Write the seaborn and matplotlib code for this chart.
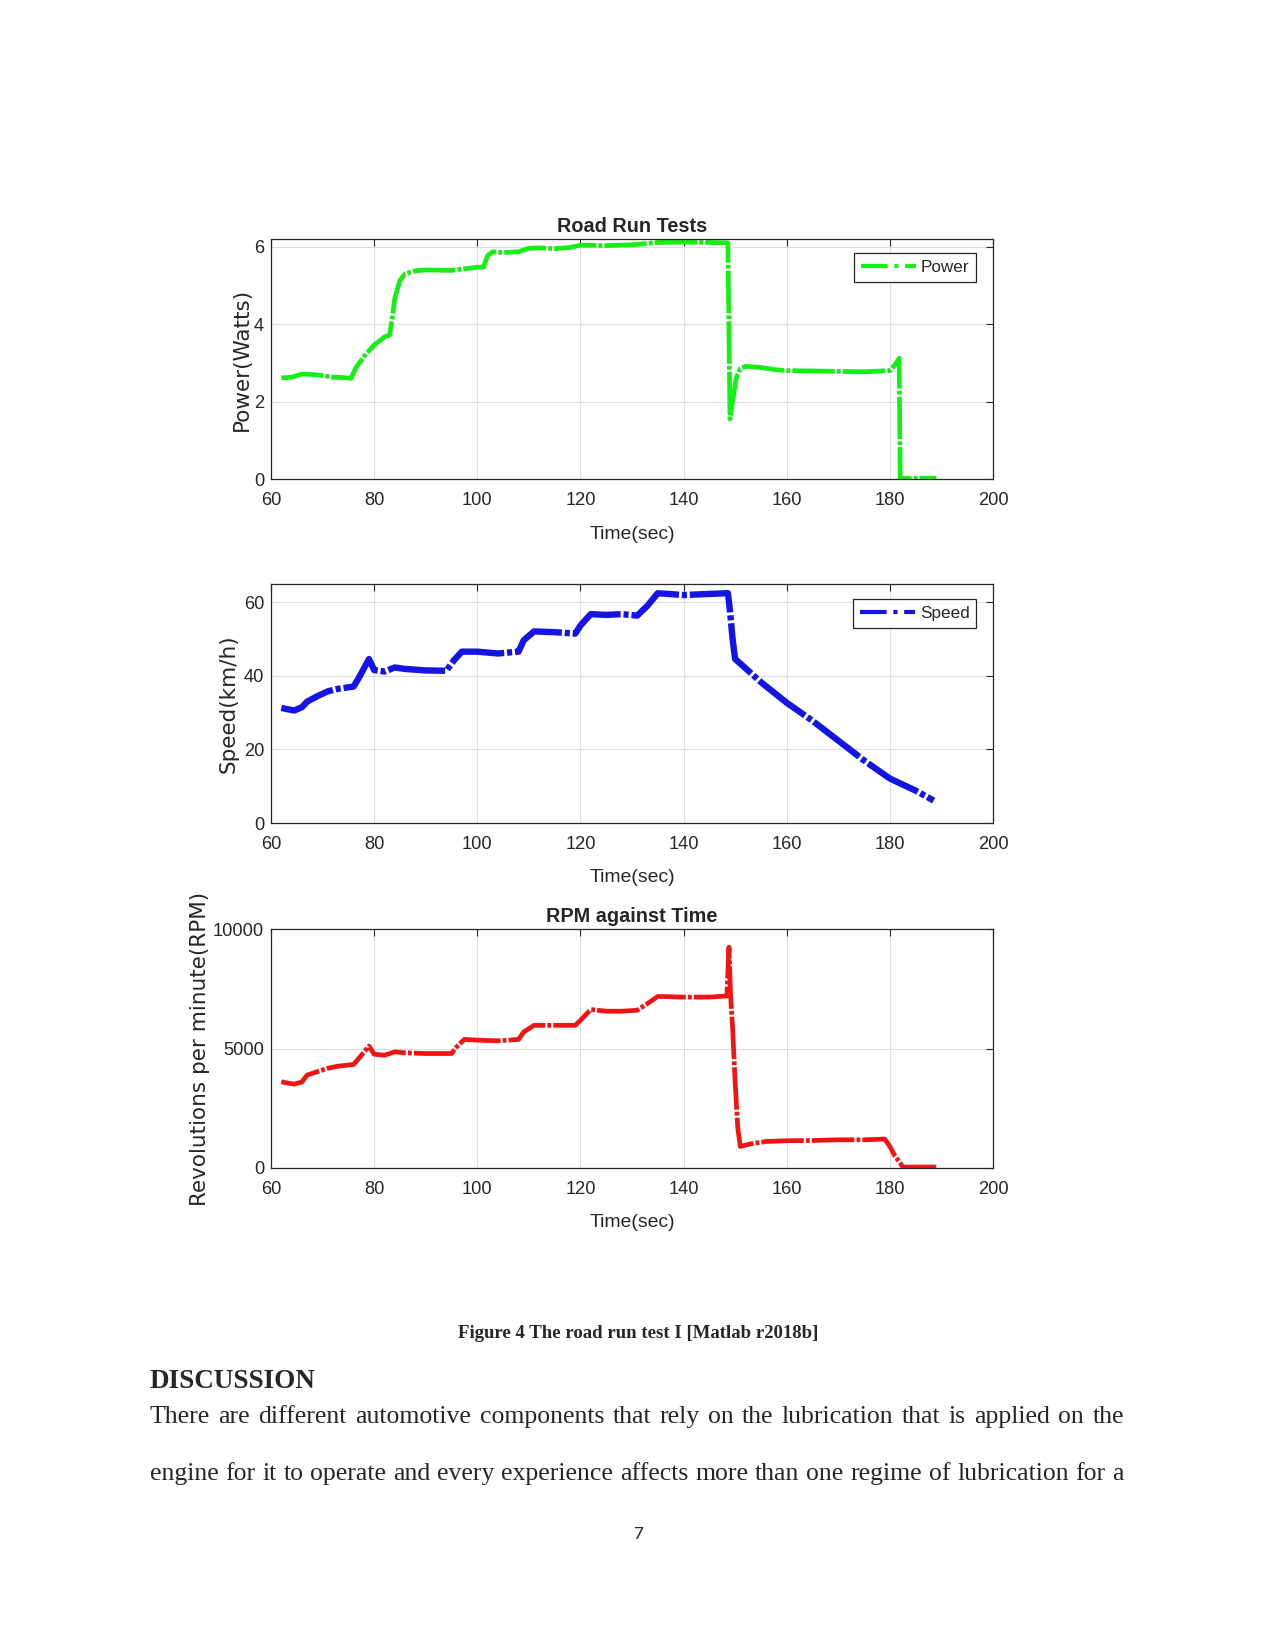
import matplotlib
matplotlib.use("Agg")
import matplotlib.pyplot as plt
from matplotlib.lines import Line2D
from matplotlib import font_manager
import seaborn as sns

# ---- data ----
power_time = [62, 64, 66, 68, 70, 72, 74, 75.5, 76.5, 78,
              80, 82, 83, 83.5, 84, 85, 86, 88, 90, 95,
              100, 101.2, 102, 103, 105, 108, 110, 112, 115, 118,
              120, 125, 130, 135, 140, 145, 148.6, 149.0, 149.5, 150.2,
              151, 152, 155, 158, 160, 165, 170, 175, 180, 181,
              181.8, 182.0, 185, 189]
power_watts = [2.61, 2.63, 2.71, 2.70, 2.67, 2.63, 2.62, 2.60, 2.88, 3.16,
               3.46, 3.67, 3.72, 4.15, 4.66, 5.13, 5.30, 5.38, 5.40, 5.39,
               5.47, 5.47, 5.77, 5.87, 5.85, 5.87, 5.96, 5.97, 5.95, 5.98,
               6.04, 6.03, 6.05, 6.11, 6.12, 6.11, 6.10, 1.55, 2.0, 2.6,
               2.85, 2.91, 2.88, 2.82, 2.80, 2.79, 2.78, 2.77, 2.80, 2.95,
               3.12, 0.02, 0.02, 0.02]

speed_time = [62, 63, 64.5, 66, 67, 69, 71, 73, 76, 77,
              79, 80, 82, 84, 86, 90, 94, 95.5, 97, 100,
              104, 108, 109, 111, 115, 119, 120, 122, 125, 128,
              131, 133, 135, 140, 145, 148.6, 149, 149.5, 150, 152,
              155, 160, 165, 170, 175, 180, 185, 188.5]
speed_kmh = [31.3, 31.0, 30.6, 31.5, 33.0, 34.5, 35.8, 36.5, 37.1, 39.4,
             44.6, 41.6, 41.2, 42.3, 41.9, 41.5, 41.4, 44.3, 46.6, 46.6,
             46.1, 46.6, 49.7, 52.1, 51.9, 51.5, 53.7, 56.8, 56.6, 56.8,
             56.4, 59.1, 62.5, 62.0, 62.3, 62.5, 57.7, 50.1, 44.6, 42.1,
             38.3, 32.7, 27.8, 22.4, 17.0, 12.1, 8.8, 6.1]

rpm_time = [62, 63, 64.5, 66, 67, 69, 71, 73, 76, 77,
            79, 80, 82, 84, 86, 90, 95, 96, 97.5, 100,
            104, 108, 109, 111, 115, 119, 120, 122, 125, 128,
            131, 133, 135, 140, 145, 148.4, 148.8, 149.1, 149.5, 150,
            150.5, 151, 153, 156, 160, 165, 170, 175, 179, 180,
            181, 182, 182.5, 185, 189]
rpm_values = [3610, 3560, 3510, 3600, 3890, 4030, 4170, 4260, 4330, 4580,
              5100, 4760, 4720, 4860, 4820, 4790, 4790, 5070, 5380, 5350,
              5320, 5380, 5690, 5970, 5970, 5970, 6180, 6630, 6560, 6560,
              6600, 6880, 7180, 7150, 7150, 7200, 9240, 7290, 5900, 3600,
              1700, 900, 1010, 1110, 1140, 1150, 1180, 1180, 1210, 900,
              490, 210, 40, 40, 40]

x_ticks = [60, 80, 100, 120, 140, 160, 180, 200]

caption = "Figure 4 The road run test I [Matlab r2018b]"
heading = "DISCUSSION"
body_lines = [
    "There are different automotive components that rely on the lubrication that is applied on the",
    "engine for it to operate and every experience affects more than one regime of lubrication for a",
]

# ---- style ----
sns.set_style("white")
installed = {f.name for f in font_manager.fontManager.ttflist}
narrow = "Liberation Sans Narrow" in installed
print("narrow font:", narrow)
# condensed sans when available, else the regular one at a smaller size
sans = ["Liberation Sans Narrow", "Liberation Sans", "DejaVu Sans"] if narrow else ["Liberation Sans", "DejaVu Sans"]
k = 1.0 if narrow else 0.82
plt.rcParams['font.family'] = sans

W, H = 1275, 1650
fig = plt.figure(figsize=(W / 100, H / 100), dpi=100)
fig.patch.set_facecolor("white")


def px_axes(left, top, right, bottom):
    return fig.add_axes([left / W, 1 - bottom / H, (right - left) / W, (bottom - top) / H])


def style_axes(ax, ylim, yticks, ylabel, ylabel_x, title=None):
    ax.set_xlim(60, 200)
    ax.set_ylim(*ylim)
    ax.set_xticks(x_ticks)
    ax.set_yticks(yticks)
    ax.grid(True, color="#dedede", linewidth=0.8)
    ax.tick_params(direction="in", length=5, width=0.8, top=True, right=True,
                   labelsize=16 * k, colors="#262626")
    ax.tick_params(axis="x", pad=9.5)
    ax.tick_params(axis="y", pad=5)
    for s in ax.spines.values():
        s.set_color("#262626")
        s.set_linewidth(0.9)
    ax.set_xlabel("Time(sec)", fontsize=17 * k)
    ax.xaxis.set_label_coords(0.5, -0.23)
    ax.xaxis.label.set_va("center")
    ax.set_ylabel(ylabel, fontsize=15.5, family="DejaVu Sans")
    ax.yaxis.set_label_coords(ylabel_x, 0.5)
    ax.yaxis.label.set_va("center")
    if title:
        ax.set_title(title, fontsize=17.5 * k, fontweight="bold", pad=5)


def add_legend(ax, label, color, top):
    h = Line2D([], [], color=color, lw=3, linestyle="-.")
    leg = ax.legend([h], [label], loc="upper right", bbox_to_anchor=(0.977, top),
                    borderaxespad=0, fancybox=False, framealpha=1, fontsize=15 * k,
                    handlelength=3.2, borderpad=0.4, handletextpad=0.3)
    leg.get_frame().set_edgecolor("#262626")
    leg.get_frame().set_linewidth(0.9)


dash = (9, 0.45, 0.8, 0.45)

# Power
ax1 = px_axes(271, 239, 993, 479)
sns.lineplot(x=power_time, y=power_watts, ax=ax1, color="#14f014", lw=3.4,
             sort=False, estimator=None)
ax1.lines[0].set_dashes(dash)
style_axes(ax1, (0, 6.2), [0, 2, 4, 6], "Power(Watts)", -0.040, "Road Run Tests")
add_legend(ax1, "Power", "#14f014", 0.942)

# Speed
ax2 = px_axes(271, 584, 993, 823)
sns.lineplot(x=speed_time, y=speed_kmh, ax=ax2, color="#1414e6", lw=4.6,
             sort=False, estimator=None)
ax2.lines[0].set_dashes(dash)
style_axes(ax2, (0, 65), [0, 20, 40, 60], "Speed(km/h)", -0.058)
add_legend(ax2, "Speed", "#1414e6", 0.937)

# RPM
ax3 = px_axes(271, 929, 993, 1168)
sns.lineplot(x=rpm_time, y=rpm_values, ax=ax3, color="#f01414", lw=3.4,
             sort=False, estimator=None)
ax3.lines[0].set_dashes(dash)
style_axes(ax3, (0, 10000), [0, 5000, 10000], "Revolutions per minute(RPM)", -0.098,
           "RPM against Time")

# ---- page text ----
serif = ["Liberation Serif", "DejaVu Serif"]
fig.text(638 / W, 1 - 1334 / H, caption, ha="center", va="center", fontsize=13.5,
         fontweight="bold", family=serif)
fig.text(150 / W, 1 - 1381 / H, heading, ha="left", va="center", fontsize=19.5,
         fontweight="bold", family=serif)
fig.text(638 / W, 1 - 1534 / H, "7", ha="center", va="center", fontsize=14,
         family=["Carlito", "Liberation Sans"] if "Carlito" in installed else ["Liberation Sans"])

renderer = fig.canvas.get_renderer()
x0, x1 = 150, 1124
for line, yc in zip(body_lines, [1417, 1474]):
    words = line.split()
    objs = [fig.text(0, 1 - yc / H, w, ha="left", va="center", fontsize=18.5, family=serif)
            for w in words]
    widths = [o.get_window_extent(renderer).width for o in objs]
    gap = (x1 - x0 - sum(widths)) / (len(words) - 1)
    x = x0
    for o, w in zip(objs, widths):
        o.set_x(x / W)
        x += w + gap

fig.savefig("out.png", dpi=100, facecolor="white")
